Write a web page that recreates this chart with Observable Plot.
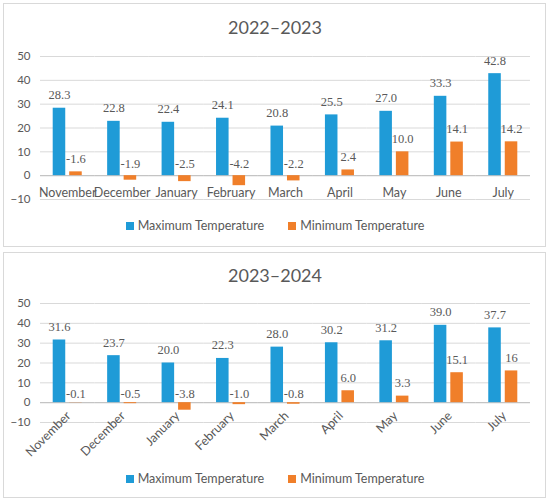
<!DOCTYPE html>
<html>
<head>
<meta charset="utf-8">
<script src="https://cdn.jsdelivr.net/npm/d3@7"></script>
<script src="https://cdn.jsdelivr.net/npm/@observablehq/plot@0.6"></script>
<style>
  body { margin: 0; background: #fff; }
  #root { position: relative; width: 550px; height: 503px; font-family: Lato, "Open Sans", sans-serif; }
  .panel { position: absolute; left: 3px; width: 541px; border: 1px solid #d9d9d9; }
  .title { position: absolute; left: 0; width: 550px; text-align: center; font-size: 18px; line-height: 20px; color: #595959; }
  .legend { position: absolute; left: 0; width: 550px; display: flex; justify-content: center; font-size: 12.5px; line-height: 14px; color: #595959; }
  .legend .item { display: flex; align-items: center; }
  .legend .sw { width: 8px; height: 8px; margin-right: 4px; }
  .legend .item + .item { margin-left: 24px; }
  .plot { position: absolute; left: 0; }
</style>
</head>
<body>
<div id="root"></div>
<script>
const months = ["November","December","January","February","March","April","May","June","July"];
const seriesNames = ["Maximum Temperature","Minimum Temperature"];
const colors = ["#1f9bd7","#f07f2a"];
const yTicks = [-10, 0, 10, 20, 30, 40, 50];

// 2022–2023
const max1 = [28.3, 22.8, 22.4, 24.1, 20.8, 25.5, 27.0, 33.3, 42.8];
const max1Labels = ["28.3","22.8","22.4","24.1","20.8","25.5","27.0","33.3","42.8"];
const min1 = [1.6, -1.9, -2.5, -4.2, -2.2, 2.4, 10.0, 14.1, 14.2];
const min1Labels = ["-1.6","-1.9","-2.5","-4.2","-2.2","2.4","10.0","14.1","14.2"];

// 2023–2024
const max2 = [31.6, 23.7, 20.0, 22.3, 28.0, 30.2, 31.2, 39.0, 37.7];
const max2Labels = ["31.6","23.7","20.0","22.3","28.0","30.2","31.2","39.0","37.7"];
const min2 = [-0.1, -0.5, -3.8, -1.0, -0.8, 6.0, 3.3, 15.1, 16];
const min2Labels = ["-0.1","-0.5","-3.8","-1.0","-0.8","6.0","3.3","15.1","16"];

function rows(maxV, maxL, minV, minL) {
  const out = [];
  months.forEach((m, i) => {
    out.push({month: m, series: seriesNames[0], value: maxV[i], label: maxL[i]});
    out.push({month: m, series: seriesNames[1], value: minV[i], label: minL[i]});
  });
  return out;
}

function makePanel(cfg) {
  const root = document.getElementById("root");
  const panel = document.createElement("div");
  panel.className = "panel";
  panel.style.top = cfg.boxTop + "px";
  panel.style.height = cfg.boxHeight + "px";
  root.appendChild(panel);

  const title = document.createElement("div");
  title.className = "title";
  title.style.top = cfg.titleTop + "px";
  title.textContent = cfg.title;
  root.appendChild(title);

  const data = rows(cfg.maxV, cfg.maxL, cfg.minV, cfg.minL);
  const pos = data.filter(d => d.value >= 0);
  const neg = data.filter(d => d.value < 0);

  const monthLabels = cfg.rotate
    ? Plot.text(months, {fx: d => d, y: () => 0, text: d => d, rotate: -45, textAnchor: "end", lineAnchor: "middle", dx: 1, dy: 11, fill: "#595959", fontSize: 12.5})
    : Plot.text(months, {fx: d => d, y: () => 0, text: d => d, lineAnchor: "middle", dy: 17, fill: "#595959", fontSize: 12.5});

  const labelStyle = {
    fx: "month", x: "series", text: "label",
    fontFamily: "'Liberation Serif', 'Times New Roman', serif",
    fontSize: 12.5, fill: "#595959", lineAnchor: "middle"
  };

  const chart = Plot.plot({
    width: 550,
    height: cfg.height,
    marginLeft: 40,
    marginRight: 20,
    marginTop: cfg.marginTop,
    marginBottom: cfg.marginBottom,
    style: {fontFamily: "Lato, 'Open Sans', sans-serif", background: "transparent", overflow: "visible"},
    fx: {domain: months, padding: 0, round: false, axis: null, label: null},
    x: {domain: seriesNames, paddingInner: 0.24, paddingOuter: 0.77, round: false, axis: null},
    y: {domain: [-10, 50], axis: null},
    color: {domain: seriesNames, range: colors},
    marks: [
      Plot.gridY(yTicks, {stroke: "#d9d9d9", strokeOpacity: 1}),
      Plot.ruleY([0], {stroke: "#bfbfbf"}),
      Plot.axisY(yTicks, {tickSize: 0, tickPadding: 10, fontSize: 11.5, fill: "#595959", label: null}),
      Plot.barY(data, {fx: "month", x: "series", y: "value", fill: "series", inset: 0}),
      Plot.text(pos, {...labelStyle, y: "value", dy: -13}),
      Plot.text(neg, {...labelStyle, y: () => 0, dy: cfg.negDy}),
      monthLabels
    ]
  });
  chart.classList.add("plot");
  chart.style.top = cfg.svgTop + "px";
  root.appendChild(chart);

  const legend = document.createElement("div");
  legend.className = "legend";
  legend.style.top = cfg.legendTop + "px";
  seriesNames.forEach((s, i) => {
    const it = document.createElement("div");
    it.className = "item";
    const sw = document.createElement("div");
    sw.className = "sw";
    sw.style.background = colors[i];
    it.appendChild(sw);
    const t = document.createElement("span");
    t.textContent = s;
    it.appendChild(t);
    legend.appendChild(it);
  });
  root.appendChild(legend);
}

makePanel({title: "2022–2023", boxTop: 3, boxHeight: 242, titleTop: 17, svgTop: 40, height: 170, marginTop: 16, marginBottom: 11, legendTop: 219, rotate: false, negDy: -12,
  maxV: max1, maxL: max1Labels, minV: min1, minL: min1Labels});
makePanel({title: "2023–2024", boxTop: 252, boxHeight: 244, titleTop: 265, svgTop: 285, height: 180, marginTop: 18, marginBottom: 43, legendTop: 472, rotate: true, negDy: -9,
  maxV: max2, maxL: max2Labels, minV: min2, minL: min2Labels});
</script>
</body>
</html>
